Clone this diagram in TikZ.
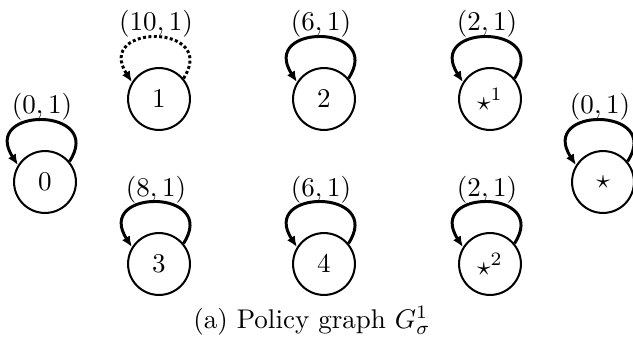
\documentclass[tikz,border=0pt]{standalone}
\usetikzlibrary{arrows.meta}
\begin{document}
\begin{tikzpicture}[x=0.37pt,y=-0.37pt,
  state/.style={circle,draw,line width=0.75pt,minimum size=22.9pt,inner sep=0pt},
  lbl/.style={inner sep=0pt},
  selfloop/.style={line width=1.1pt,-{Latex[length=4pt,width=3.4pt]}},
  dotloop/.style={selfloop,dash pattern=on 1.1pt off 0.9pt}]
\useasboundingbox (0,0) rectangle (633,346);
\clip (0,0) rectangle (633,346);
\node[state] (n0) at (45,182) {$0$};
\node[state] (n1) at (159,99) {$1$};
\node[state] (n2) at (324,99) {$2$};
\node[state] (s1) at (490,99) {$\star^1$};
\node[state] (s)  at (603,182) {$\star$};
\node[state] (n3) at (159,264) {$3$};
\node[state] (n4) at (324,264) {$4$};
\node[state] (s2) at (490,264) {$\star^2$};
\node[lbl] (l0) at (42,107) {$(0,1)$};
\node[lbl] (l1) at (156,24) {$(10,1)$};
\node[lbl] (l2) at (321,24) {$(6,1)$};
\node[lbl] (l3) at (487,24) {$(2,1)$};
\node[lbl] (l4) at (600,107) {$(0,1)$};
\node[lbl] (l5) at (156,190) {$(8,1)$};
\node[lbl] (l6) at (321,190) {$(6,1)$};
\node[lbl] (l7) at (487,190) {$(2,1)$};
\foreach \n in {n0,n2,s1,s,n3,n4,s2}
  \draw[selfloop] (\n.40) .. controls +(36,-55) and +(-38,-59) .. (\n.148);
\draw[dotloop] (n1.40) .. controls +(36,-55) and +(-38,-59) .. (n1.148);
\node[anchor=base] (cap) at (312,328) {(a) Policy graph $G^1_\sigma$};
\end{tikzpicture}
\end{document}
